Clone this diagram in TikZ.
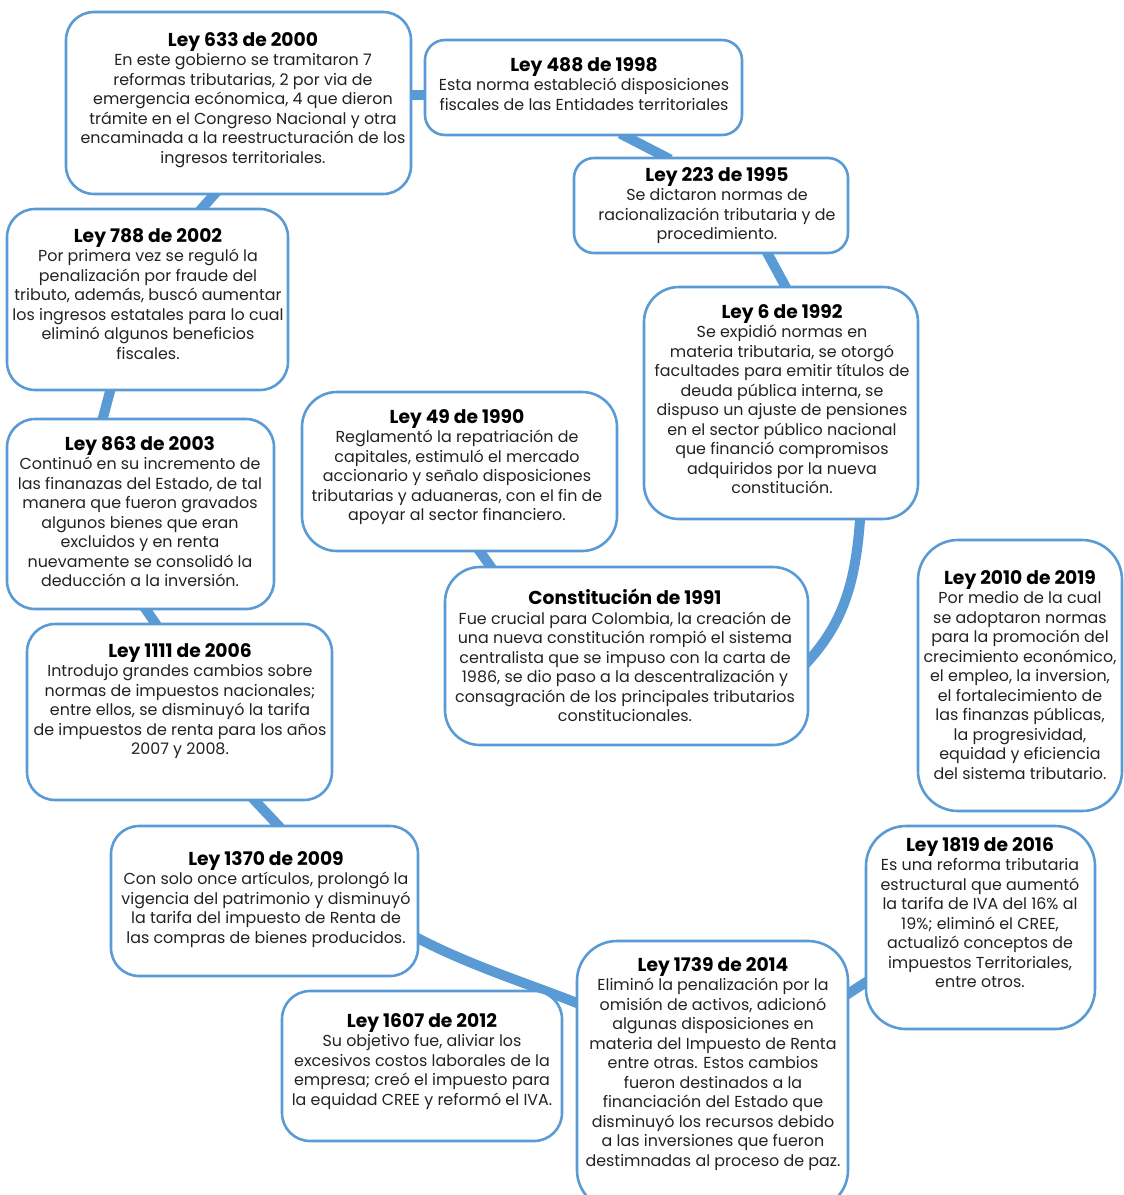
\documentclass[tikz,border=0pt]{standalone}
\usepackage{fontspec}
\setmainfont{Poppins}
\usetikzlibrary{backgrounds}
\definecolor{lineblue}{HTML}{5B9BD5}
\definecolor{txtgray}{HTML}{222222}
\tikzset{
  box/.style={draw=lineblue, line width=2.6pt, fill=white, rounded corners=28pt, inner sep=0pt},
  txt/.style={align=center, inner sep=0pt, text=txtgray, font=\fontsize{15.9}{19.5}\selectfont, anchor=north},
  conn/.style={draw=lineblue, line width=10pt, shorten <=-6pt, shorten >=-6pt}
}
\newcommand{\ttl}[1]{{\fontsize{18.7}{21}\selectfont\bfseries\color{black}#1}}
\begin{document}
\begin{tikzpicture}[x=1pt,y=-1pt]
\useasboundingbox (0,0) rectangle (1124,1195);
\clip (0,0) rectangle (1124,1195);
% boxes
\node[box, minimum width=345pt, minimum height=182pt] (b633) at (238.5,103) {};
\node[box, minimum width=317pt, minimum height=95pt, rounded corners=20pt] (b488) at (583.5,87.5) {};
\node[box, minimum width=274pt, minimum height=95pt, rounded corners=20pt] (b223) at (711,205.5) {};
\node[box, minimum width=274pt, minimum height=232pt, rounded corners=35pt] (b6) at (781,403) {};
\node[box, minimum width=281pt, minimum height=181pt] (b788) at (147.5,299.5) {};
\node[box, minimum width=315pt, minimum height=159pt, rounded corners=35pt] (b49) at (459.5,471.5) {};
\node[box, minimum width=267pt, minimum height=190pt] (b863) at (140.5,514) {};
\node[box, minimum width=363pt, minimum height=178pt, rounded corners=35pt] (b1991) at (626.5,656) {};
\node[box, minimum width=305pt, minimum height=176pt] (b1111) at (179.5,712) {};
\node[box, minimum width=204pt, minimum height=271pt, rounded corners=40pt] (b2019) at (1020,675.5) {};
\node[box, minimum width=307pt, minimum height=150pt] (b1370) at (264.5,901) {};
\node[box, minimum width=229pt, minimum height=203pt, rounded corners=40pt] (b1819) at (980.5,927.5) {};
\node[box, minimum width=280pt, minimum height=150pt] (b1607) at (422,1066) {};
\node[box, minimum width=271pt, minimum height=269pt, rounded corners=40pt] (b1739) at (712.5,1075.5) {};
% connectors
\begin{scope}[on background layer]
\draw[conn] ([yshift=8pt]b633.east) -- ([yshift=-7.5pt]b488.west);
\draw[conn] ([xshift=-25pt]b633.south) -- ([xshift=55pt]b788.north);
\draw[conn] ([xshift=42pt]b488.south) -- ([xshift=-46pt]b223.north);
\draw[conn] ([xshift=57pt]b223.south) -- ([xshift=4pt]b6.north);
\draw[conn] ([xshift=79pt]b6.south) .. controls (856,585) and (842,625) .. ([yshift=-4pt]b1991.east);
\draw[conn] ([xshift=21pt]b49.south) -- ([xshift=-136.5pt]b1991.north);
\draw[conn] ([xshift=-37.5pt]b788.south) -- ([xshift=-37.5pt]b863.north);
\draw[conn] ([xshift=6pt]b863.south) -- ([xshift=-24.5pt]b1111.north);
\draw[conn] ([xshift=76pt]b1111.south) -- ([xshift=13pt]b1370.north);
\draw[conn] ([yshift=-38pt]b1370.east) .. controls (470,966) and (530,984) .. ([yshift=73pt]b1739.west);
\draw[conn] ([yshift=82.5pt]b1739.east) -- ([yshift=-55.5pt]b1819.west);
\end{scope}
% texts
\node[txt] (t633) at (243,32) {\ttl{Ley 633 de 2000}\\En este gobierno se tramitaron 7\\reformas tributarias, 2 por via de\\emergencia ecónomica, 4 que dieron\\trámite en el Congreso Nacional y otra\\encaminada a la reestructuración de los\\ingresos territoriales.};
\node[txt] (t488) at (584,57) {\ttl{Ley 488 de 1998}\\Esta norma estableció disposiciones\\fiscales de las Entidades territoriales};
\node[txt] (t223) at (717,167) {\ttl{Ley 223 de 1995}\\Se dictaron normas de\\racionalización tributaria y de\\procedimiento.};
\node[txt] (t6) at (782,304) {\ttl{Ley 6 de 1992}\\Se expidió normas en\\materia tributaria, se otorgó\\facultades para emitir títulos de\\deuda pública interna, se\\dispuso un ajuste de pensiones\\en el sector público nacional\\que financió compromisos\\adquiridos por la nueva\\constitución.};
\node[txt] (t788) at (148,228) {\ttl{Ley 788 de 2002}\\Por primera vez se reguló la\\penalización por fraude del\\tributo, además, buscó aumentar\\los ingresos estatales para lo cual\\eliminó algunos beneficios\\fiscales.};
\node[txt] (t49) at (457,409) {\ttl{Ley 49 de 1990}\\Reglamentó la repatriación de\\capitales, estimuló el mercado\\accionario y señalo disposiciones\\tributarias y aduaneras, con el fin de\\apoyar al sector financiero.};
\node[txt] (t863) at (140,436) {\ttl{Ley 863 de 2003}\\Continuó en su incremento de\\las finanazas del Estado, de tal\\manera que fueron gravados\\algunos bienes que eran\\excluidos y en renta\\nuevamente se consolidó la\\deducción a la inversión.};
\node[txt] (t1991) at (625,589) {\ttl{Constitución de 1991}\\Fue crucial para Colombia, la creación de\\una nueva constitución rompió el sistema\\centralista que se impuso con la carta de\\1986, se dio paso a la descentralización y\\consagración de los principales tributarios\\constitucionales.};
\node[txt] (t1111) at (180,643) {\ttl{Ley 1111 de 2006}\\Introdujo grandes cambios sobre\\normas de impuestos nacionales;\\entre ellos, se disminuyó la tarifa\\de impuestos de renta para los años\\2007 y 2008.};
\node[txt] (t2019) at (1020,570) {\ttl{Ley 2010 de 2019}\\Por medio de la cual\\se adoptaron normas\\para la promoción del\\crecimiento económico,\\el empleo, la inversion,\\el fortalecimiento de\\las finanzas públicas,\\la progresividad,\\equidad y eficiencia\\del sistema tributario.};
\node[txt] (t1370) at (266,851) {\ttl{Ley 1370 de 2009}\\Con solo once artículos, prolongó la\\vigencia del patrimonio y disminuyó\\la tarifa del impuesto de Renta de\\las compras de bienes producidos.};
\node[txt] (t1819) at (980,837) {\ttl{Ley 1819 de 2016}\\Es una reforma tributaria\\estructural que aumentó\\la tarifa de IVA del 16\% al\\19\%; eliminó el CREE,\\actualizó conceptos de\\impuestos Territoriales,\\entre otros.};
\node[txt] (t1607) at (422,1013) {\ttl{Ley 1607 de 2012}\\Su objetivo fue, aliviar los\\excesivos costos laborales de la\\empresa; creó el impuesto para\\la equidad CREE y reformó el IVA.};
\node[txt] (t1739) at (713,957) {\ttl{Ley 1739 de 2014}\\Eliminó la penalización por la\\omisión de activos, adicionó\\algunas disposiciones en\\materia del Impuesto de Renta\\entre otras. Estos cambios\\fueron destinados a la\\financiación del Estado que\\disminuyó los recursos debido\\a las inversiones que fueron\\destimnadas al proceso de paz.};
\end{tikzpicture}
\end{document}
